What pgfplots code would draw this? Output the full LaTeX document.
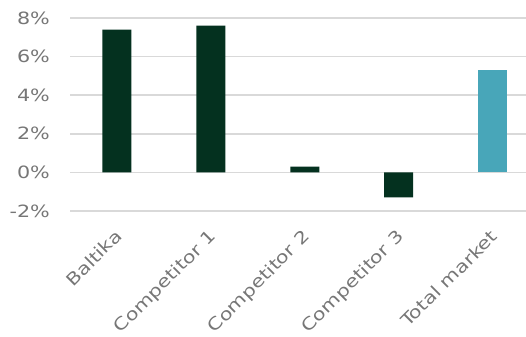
\documentclass[border=0pt]{standalone}
\usepackage{pgfplots}
\pgfplotsset{compat=1.18}
\usepackage{fontspec}
\setmainfont{DejaVu Sans}[FakeStretch=1.22]
\definecolor{dkgreen}{HTML}{04311F}
\definecolor{teal}{HTML}{48A6B9}
\definecolor{gridc}{HTML}{D9D9D9}
\definecolor{txt}{HTML}{767676}
\begin{document}
\begin{tikzpicture}
\begin{axis}[
  scale only axis,
  width=456bp, height=193bp,
  xmin=-0.5, xmax=4.356,
  ymin=-2, ymax=8,
  ytick={-2,0,2,4,6,8},
  yticklabels={-2\%,0\%,2\%,4\%,6\%,8\%},
  xtick={0,1,2,3,4},
  xticklabels={Baltika,Competitor 1,Competitor 2,Competitor 3,Total market},
  axis line style={draw=none},
  major tick length=0pt,
  ymajorgrids,
  grid style={gridc, line width=1.5bp},
  tick label style={font=\fontsize{17}{20}\selectfont, text=txt},
  yticklabel style={inner sep=0pt, xshift=-20bp},
  xticklabel style={xshift=-3bp, yshift=-17bp, rotate=45, anchor=north east, inner sep=0pt},
  clip=false,
]
\addplot[ybar, bar width=29bp, fill=dkgreen, draw=none] coordinates {(0,7.4) (1,7.6) (2,0.3) (3,-1.3)};
\addplot[ybar, bar width=29bp, fill=teal, draw=none] coordinates {(4,5.3)};
\end{axis}
\pgfresetboundingbox
\path ([shift={(-70bp,-126bp)}]current axis.south west) rectangle ([shift={(456bp,211bp)}]current axis.south west);
\end{tikzpicture}
\end{document}
